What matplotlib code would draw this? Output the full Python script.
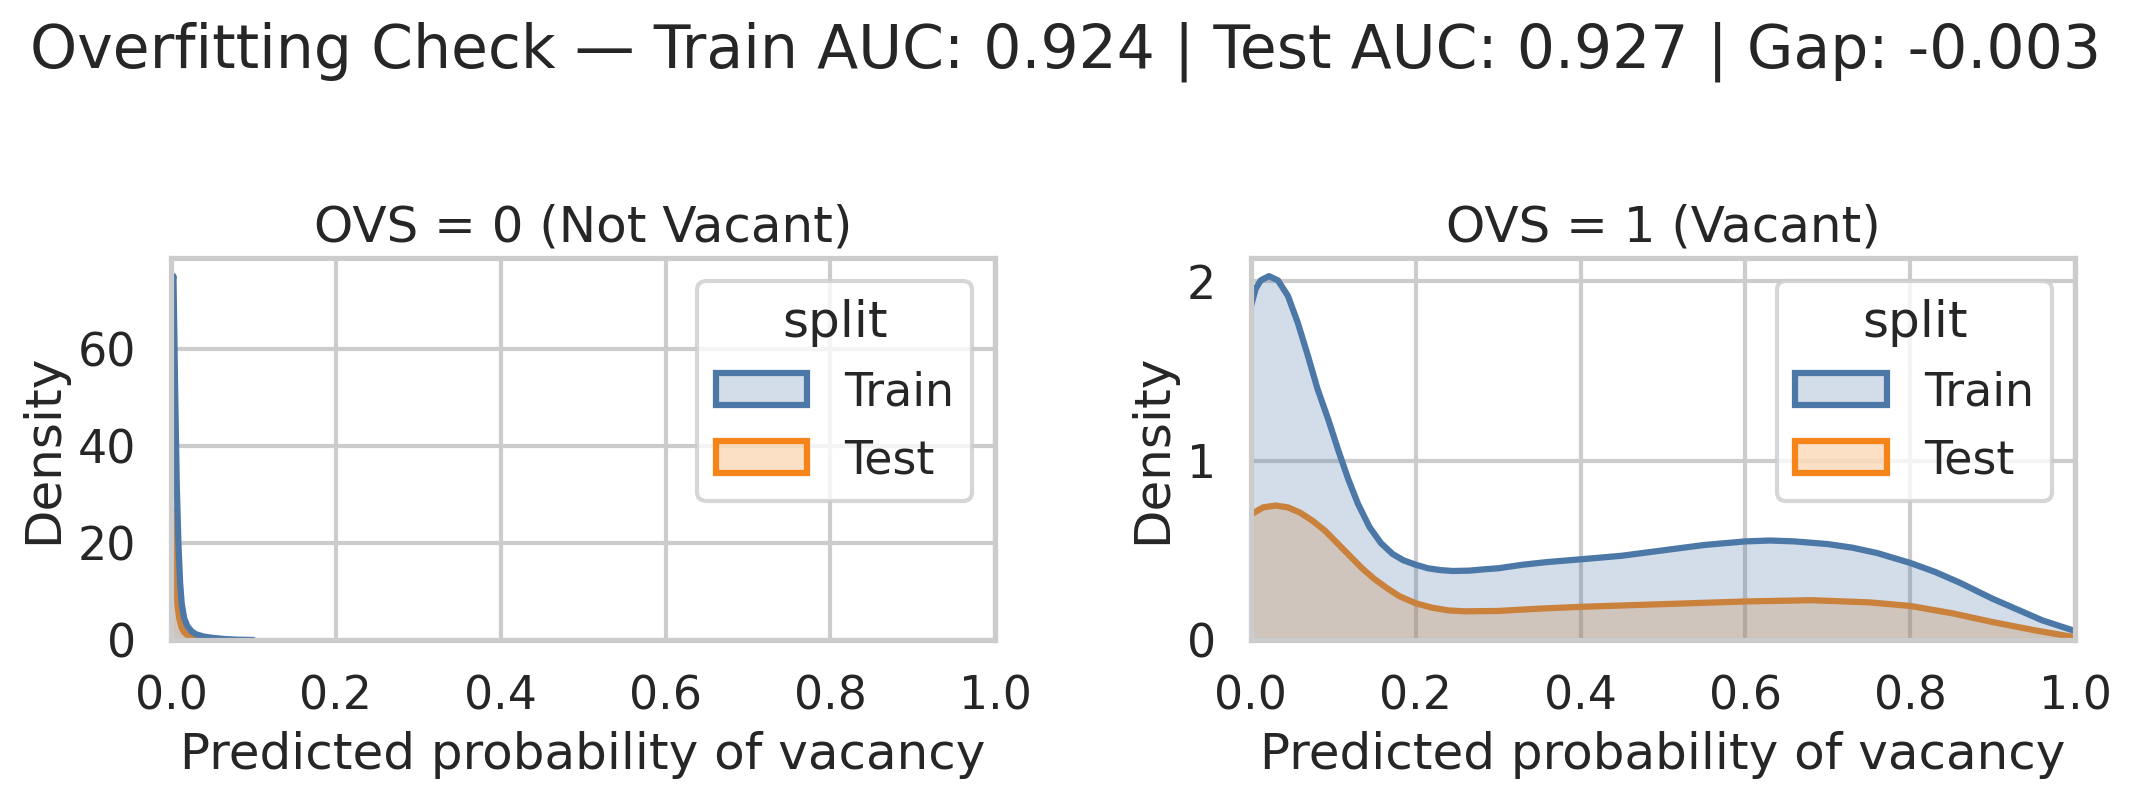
import matplotlib
matplotlib.use("Agg")
import matplotlib.pyplot as plt
from matplotlib.patches import Patch
from matplotlib.colors import to_rgba
import seaborn as sns

sns.set_theme(style="whitegrid", context="talk")
plt.rcParams['font.family'] = ['DejaVu Sans']

# ---- data (density curves) ----
split_levels = ["Train", "Test"]
colors = {"Train": "#4c78a8", "Test": "#f58518"}

left_train_x = [0.0, 0.003, 0.005, 0.007, 0.009, 0.011, 0.013, 0.016, 0.020, 0.025,
                0.030, 0.040, 0.050, 0.065, 0.080, 0.100]
left_train_y = [72, 75, 52, 32, 20, 12, 7.5, 4.5, 2.8, 1.8,
                1.2, 0.7, 0.45, 0.2, 0.07, 0.0]
left_test_x = [0.0, 0.002, 0.004, 0.006, 0.008, 0.010, 0.013, 0.016, 0.020, 0.030,
               0.045, 0.060]
left_test_y = [26, 27, 20, 12, 7, 4.5, 2.5, 1.6, 1.0, 0.5,
               0.15, 0.0]

right_train_x = [0.000, 0.006, 0.012, 0.022, 0.033, 0.045, 0.057, 0.069, 0.081, 0.094,
                 0.106, 0.118, 0.130, 0.144, 0.158, 0.172, 0.185, 0.200, 0.215, 0.230,
                 0.245, 0.265, 0.285, 0.30, 0.33, 0.36, 0.40, 0.45, 0.50, 0.55,
                 0.60, 0.63, 0.66, 0.70, 0.73, 0.76, 0.80, 0.83, 0.86, 0.90,
                 0.93, 0.96, 1.00]
right_train_y = [1.86, 1.96, 2.006, 2.03, 2.006, 1.92, 1.77, 1.59, 1.40, 1.23,
                 1.06, 0.90, 0.76, 0.63, 0.54, 0.48, 0.445, 0.42, 0.40, 0.39,
                 0.385, 0.387, 0.395, 0.40, 0.42, 0.435, 0.45, 0.47, 0.50, 0.53,
                 0.55, 0.555, 0.55, 0.535, 0.515, 0.485, 0.43, 0.38, 0.32, 0.23,
                 0.17, 0.11, 0.05]
right_test_x = [0.00, 0.015, 0.03, 0.045, 0.06, 0.075, 0.09, 0.105, 0.12, 0.135,
                0.15, 0.165, 0.18, 0.20, 0.22, 0.24, 0.26, 0.30, 0.35, 0.40,
                0.50, 0.60, 0.68, 0.75, 0.80, 0.85, 0.90, 0.95, 1.00]
right_test_y = [0.70, 0.74, 0.75, 0.74, 0.71, 0.665, 0.61, 0.54, 0.47, 0.40,
                0.34, 0.29, 0.245, 0.205, 0.18, 0.165, 0.16, 0.162, 0.175, 0.185,
                0.20, 0.215, 0.222, 0.21, 0.19, 0.15, 0.10, 0.055, 0.015]

panel_titles = ["OVS = 0 (Not Vacant)", "OVS = 1 (Vacant)"]
suptitle = "Overfitting Check \u2014 Train AUC: 0.924 | Test AUC: 0.927 | Gap: -0.003"
xlabel = "Predicted probability of vacancy"
ylabel = "Density"

panels = [
    {"Train": (left_train_x, left_train_y), "Test": (left_test_x, left_test_y)},
    {"Train": (right_train_x, right_train_y), "Test": (right_test_x, right_test_y)},
]

fig, axes = plt.subplots(1, 2, figsize=(10.66, 4.005), dpi=200)
fig.subplots_adjust(left=0.0802, right=0.9733, bottom=0.201, top=0.678, wspace=0.31)

lw = plt.rcParams['lines.linewidth']
for ax, data, title in zip(axes, panels, panel_titles):
    # seaborn draws hue levels in reverse order: Test first, Train on top
    for lvl in reversed(split_levels):
        xs, ys = data[lvl]
        ax.fill_between(xs, 0, ys, facecolor=to_rgba(colors[lvl], 0.25),
                        edgecolor="none", linewidth=0, zorder=2)
        ax.plot(xs, ys, color=colors[lvl], linewidth=lw, solid_joinstyle="round",
                zorder=2)
    ax.set_xlim(0, 1)
    ymax = max(max(data["Train"][1]), max(data["Test"][1]))
    ax.set_ylim(0, ymax * 1.05)
    ax.set_title(title)
    ax.set_xlabel(xlabel)
    ax.set_ylabel(ylabel)
    handles = [Patch(facecolor=to_rgba(colors[l], 0.25), edgecolor=colors[l], linewidth=lw)
               for l in split_levels]
    ax.legend(handles, split_levels, title="split", loc="upper right")

fig.suptitle(suptitle, y=0.935, va="center")
fig.savefig("out.png", dpi=200)
